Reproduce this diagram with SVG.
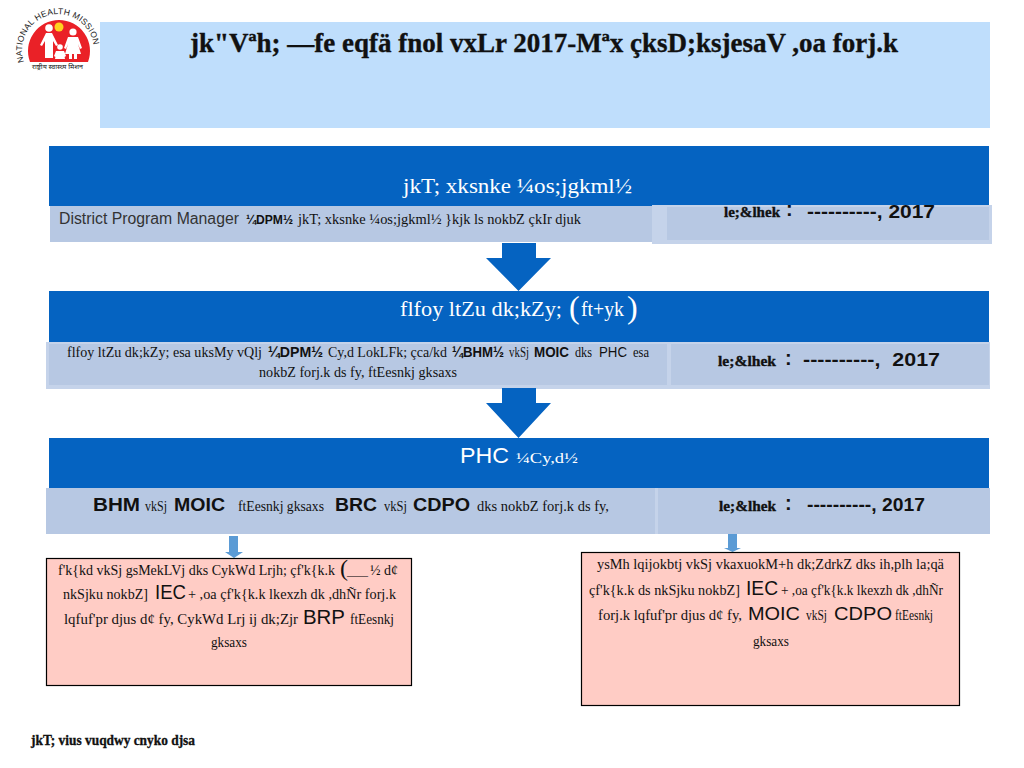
<svg xmlns="http://www.w3.org/2000/svg" width="1024" height="768" viewBox="0 0 1024 768">
<style>
text{font-family:"Liberation Serif",serif;fill:#111;white-space:pre}
.h{font-size:14px}
.w{fill:#fff;font-size:22px}
.a{font-family:"Liberation Sans",Arial,sans-serif}
.ab{font-family:"Liberation Sans",Arial,sans-serif;font-weight:700}
.b{font-weight:700;stroke:#111;stroke-width:.35px}
.band{fill:#0563C1}
.row{fill:#B7C8E3}
.rowo{fill:#C5D3EA}
.pink{fill:#FFCCC5;stroke:#000;stroke-width:1.2}
.big{fill:#0563C1}
.small{fill:#5B9BD5}
.lg{font-family:"Liberation Sans",Arial,sans-serif;font-size:8.500px;fill:#222;letter-spacing:.2px}
</style>
<defs><path id="arc" d="M24 62A36 36 0 1 1 92 62"/></defs>
<rect width="1024" height="768" fill="#fff"/>

<g id="title">
<rect x="100" y="22" width="890" height="106" fill="#BFDEFC"/>
<text class="b" x="190" y="52" font-size="27" textLength="708" lengthAdjust="spacingAndGlyphs">jk"Vªh; —fe eqfä fnol vxLr 2017-Mªx çksD;ksjesaV ,oa forj.k</text>
</g>

<g id="logo">
<path d="M30 62A31 31 0 1 1 88 62Z" fill="#EA2127"/>
<text class="lg"><textPath href="#arc">NATIONAL HEALTH MISSION</textPath></text>
<circle cx="59" cy="27" r="4.500" fill="#FFD21F"/>
<g fill="#fff">
<circle cx="49" cy="28" r="3.800"/><path d="M40 45L46 33H52L58 45 56 46 53 41V58H45V41L42 46Z"/>
<circle cx="73" cy="32" r="3.600"/><path d="M68 37H78L82 48 80 49 78 44 81 54H65L68 44 66 49 64 48Z"/><rect x="69" y="54" width="3" height="5"/><rect x="74" y="54" width="3" height="5"/>
<circle cx="60" cy="47" r="2.800"/><path d="M56 51H64L66 56 64.500 57 64 54 65 59H55L56 54 55.500 57 54 56Z"/>
</g>
<text x="32" y="69" font-size="6.500" textLength="51" lengthAdjust="spacingAndGlyphs" style="font-family:'Noto Sans','DejaVu Sans',sans-serif">राष्ट्रीय स्वास्थ्य मिशन</text>
</g>

<g id="state">
<rect class="band" x="49" y="146" width="940" height="60"/>
<rect class="row" x="50" y="206" width="602" height="36"/>
<rect class="rowo" x="652" y="205" width="340" height="39"/>
<rect class="row" x="667" y="207" width="322" height="33"/>
<text class="w" x="403" y="193" textLength="229" lengthAdjust="spacingAndGlyphs">jkT; xksnke ¼os;jgkml½</text>
<text class="a" x="59" y="224" font-size="16" style="fill:#333" textLength="180" lengthAdjust="spacingAndGlyphs">District Program Manager</text>
<text class="ab" x="246" y="224" font-size="13" textLength="47" lengthAdjust="spacingAndGlyphs">¼DPM½</text>
<text class="h" x="298" y="224" textLength="283" lengthAdjust="spacingAndGlyphs">jkT; xksnke ¼os;jgkml½ }kjk ls nokbZ çkIr djuk</text>
<text class="b" x="724" y="217" font-size="15" textLength="56" lengthAdjust="spacingAndGlyphs">le;&amp;lhek</text>
<text class="ab" x="786" y="216" font-size="20">:</text>
<text class="ab" x="807" y="218" font-size="18" textLength="128" lengthAdjust="spacingAndGlyphs">----------, 2017</text>
</g>

<g id="district">
<rect class="band" x="49" y="291" width="940" height="51"/>
<rect class="rowo" x="46" y="342" width="944" height="47"/>
<rect class="row" x="49" y="344" width="618" height="41"/>
<rect class="row" x="671" y="344" width="318" height="41"/>
<text class="w" x="400" y="316" textLength="162" lengthAdjust="spacingAndGlyphs">flfoy ltZu dk;kZy;</text>
<text class="w" x="569" y="318" style="font-size:32px">(</text>
<text class="w" x="581" y="316" textLength="43" lengthAdjust="spacingAndGlyphs">ft+yk</text>
<text class="w" x="627" y="318" style="font-size:32px">)</text>
<text class="h" x="67" y="357" textLength="195" lengthAdjust="spacingAndGlyphs">flfoy ltZu dk;kZy; esa uksMy vQlj</text>
<text class="ab" x="268" y="357" font-size="14" textLength="55" lengthAdjust="spacingAndGlyphs">¼DPM½</text>
<text class="h" x="328" y="357" textLength="119" lengthAdjust="spacingAndGlyphs">Cy,d LokLFk; çca/kd</text>
<text class="ab" x="452" y="357" font-size="14" textLength="52" lengthAdjust="spacingAndGlyphs">¼BHM½</text>
<text class="h" x="509" y="357" textLength="20" lengthAdjust="spacingAndGlyphs">vkSj</text>
<text class="ab" x="534" y="357" font-size="14" textLength="35" lengthAdjust="spacingAndGlyphs">MOIC</text>
<text class="h" x="575" y="357" textLength="17" lengthAdjust="spacingAndGlyphs">dks</text>
<text class="a" x="599" y="357" font-size="14" textLength="28" lengthAdjust="spacingAndGlyphs">PHC</text>
<text class="h" x="633" y="357" textLength="16" lengthAdjust="spacingAndGlyphs">esa</text>
<text class="h" x="259" y="377" textLength="198" lengthAdjust="spacingAndGlyphs">nokbZ forj.k ds fy, ftEesnkj gksaxs</text>
<text class="b" x="718" y="366" font-size="15" textLength="58" lengthAdjust="spacingAndGlyphs">le;&amp;lhek</text>
<text class="ab" x="785" y="365" font-size="20">:</text>
<text class="ab" x="803" y="366" font-size="18" textLength="137" lengthAdjust="spacingAndGlyphs">----------,  2017</text>
</g>

<g id="phc">
<rect class="band" x="49" y="438" width="940" height="50"/>
<rect class="row" x="46" y="488" width="609" height="46"/>
<rect class="rowo" x="655" y="488" width="3" height="46"/>
<rect class="row" x="658" y="488" width="332" height="46"/>
<text class="a w" x="460" y="463" textLength="49" lengthAdjust="spacingAndGlyphs">PHC</text>
<text class="h" x="516" y="463" style="fill:#fff" textLength="62" lengthAdjust="spacingAndGlyphs">¼Cy,d½</text>
<text class="ab" x="93" y="511" font-size="19" textLength="47" lengthAdjust="spacingAndGlyphs">BHM</text>
<text class="h" x="145" y="511" textLength="22" lengthAdjust="spacingAndGlyphs">vkSj</text>
<text class="ab" x="174" y="511" font-size="19" textLength="51" lengthAdjust="spacingAndGlyphs">MOIC</text>
<text class="h" x="238" y="511" textLength="86" lengthAdjust="spacingAndGlyphs">ftEesnkj gksaxs</text>
<text class="ab" x="335" y="511" font-size="19" textLength="42" lengthAdjust="spacingAndGlyphs">BRC</text>
<text class="h" x="384" y="511" textLength="23" lengthAdjust="spacingAndGlyphs">vkSj</text>
<text class="ab" x="413" y="511" font-size="19" textLength="57" lengthAdjust="spacingAndGlyphs">CDPO</text>
<text class="h" x="477" y="511" textLength="132" lengthAdjust="spacingAndGlyphs">dks nokbZ forj.k ds fy,</text>
<text class="b" x="719" y="511" font-size="15" textLength="57" lengthAdjust="spacingAndGlyphs">le;&amp;lhek</text>
<text class="ab" x="785" y="510" font-size="20">:</text>
<text class="ab" x="807" y="511" font-size="18" textLength="118" lengthAdjust="spacingAndGlyphs">----------, 2017</text>
</g>

<g id="connectors">
<polygon class="big" points="502,243 536,243 536,258 551,258 518.500,291 486,258 502,258"/>
<polygon class="big" points="502,388 536,388 536,403 551,403 518.500,438 486,403 502,403"/>
<polygon class="small" points="229,536 238,536 238,552 243,552 234,558 225,552 229,552"/>
<polygon class="small" points="728,534 737,534 737,548 741,548 732.500,552 724,548 728,548"/>
</g>

<g id="teachers">
<rect class="pink" x="46.500" y="558.500" width="365" height="127"/>
<text class="h" x="58" y="575" textLength="277" lengthAdjust="spacingAndGlyphs">f'k{kd vkSj gsMekLVj dks CykWd Lrjh; çf'k{k.k</text>
<text class="h" x="340" y="576" style="font-size:24px">(</text>
<text class="ab" x="347" y="575" font-size="14" textLength="21" lengthAdjust="spacingAndGlyphs">___</text>
<text class="h" x="370" y="575" textLength="28" lengthAdjust="spacingAndGlyphs">½ d¢</text>
<text class="h" x="63" y="599" textLength="85" lengthAdjust="spacingAndGlyphs">nkSjku nokbZ]</text>
<text class="a" x="155" y="599" font-size="20" textLength="31" lengthAdjust="spacingAndGlyphs">IEC</text>
<text class="h" x="188" y="599" textLength="208" lengthAdjust="spacingAndGlyphs">+ ,oa çf'k{k.k lkexzh dk ,dhÑr forj.k</text>
<text class="h" x="64" y="624" textLength="234" lengthAdjust="spacingAndGlyphs">lqfuf'pr djus d¢ fy, CykWd Lrj ij dk;Zjr</text>
<text class="a" x="303" y="624" font-size="20" textLength="42" lengthAdjust="spacingAndGlyphs">BRP</text>
<text class="h" x="350" y="624" textLength="44" lengthAdjust="spacingAndGlyphs">ftEesnkj</text>
<text class="h" x="211" y="647" textLength="36" lengthAdjust="spacingAndGlyphs">gksaxs</text>
</g>

<g id="supervisors">
<rect class="pink" x="581.500" y="552.500" width="378" height="153"/>
<text class="h" x="597" y="569" textLength="347" lengthAdjust="spacingAndGlyphs">ysMh lqijokbtj vkSj vkaxuokM+h dk;ZdrkZ dks ih,plh la;qä</text>
<text class="h" x="589" y="595" textLength="151" lengthAdjust="spacingAndGlyphs">çf'k{k.k ds nkSjku nokbZ]</text>
<text class="a" x="746" y="595" font-size="20" textLength="32" lengthAdjust="spacingAndGlyphs">IEC</text>
<text class="h" x="781" y="595" textLength="162" lengthAdjust="spacingAndGlyphs">+ ,oa çf'k{k.k lkexzh dk ,dhÑr</text>
<text class="h" x="598" y="620" textLength="144" lengthAdjust="spacingAndGlyphs">forj.k lqfuf'pr djus d¢ fy,</text>
<text class="a" x="748" y="620" font-size="19" textLength="52" lengthAdjust="spacingAndGlyphs">MOIC</text>
<text class="h" x="806" y="620" textLength="21" lengthAdjust="spacingAndGlyphs">vkSj</text>
<text class="a" x="834" y="620" font-size="19" textLength="58" lengthAdjust="spacingAndGlyphs">CDPO</text>
<text class="h" x="895" y="620" textLength="38" lengthAdjust="spacingAndGlyphs">ftEesnkj</text>
<text class="h" x="753" y="646" textLength="36" lengthAdjust="spacingAndGlyphs">gksaxs</text>
</g>

<g id="footer">
<text class="b" x="31" y="745" font-size="15" textLength="164" lengthAdjust="spacingAndGlyphs">jkT; vius vuqdwy cnyko djsa</text>
</g>
</svg>
